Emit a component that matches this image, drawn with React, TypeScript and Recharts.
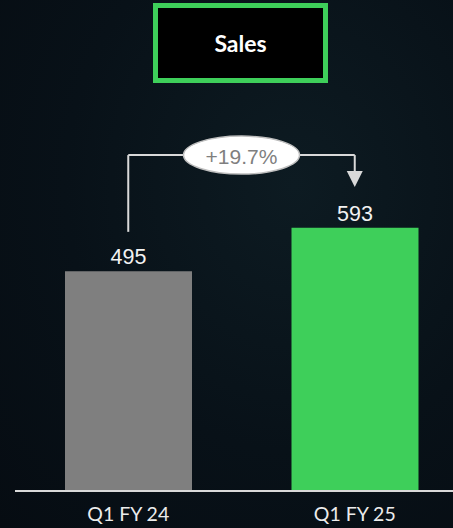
import {
  BarChart,
  Bar,
  Cell,
  XAxis,
  YAxis,
  LabelList,
  ReferenceLine,
  ReferenceDot,
} from "recharts";

const PERIODS = ["Q1 FY 24", "Q1 FY 25"];
const SALES = [495, 593];
const BAR_COLORS = ["#7f7f7f", "#3ecf5a"];
const GROWTH_LABEL = "+19.7%";

// bracket heights in data units
const BRACKET_TOP = 757;
const BRACKET_LEFT_BOTTOM = 584;
const ARROW_START = 720;
const ARROW_TIP = 685;

const data = PERIODS.map((period, i) => ({ period, sales: SALES[i] }));

const LINE = "#d9d9d9";

function GrowthBadge({ viewBox }: { viewBox?: { x: number; y: number; width: number } }) {
  if (!viewBox) return null;
  const cx = viewBox.x + viewBox.width / 2;
  const cy = viewBox.y;
  return (
    <g>
      <ellipse cx={cx} cy={cy} rx={58} ry={19} fill="#ffffff" stroke="#bfbfbf" strokeWidth={1.5} />
      <text
        x={cx}
        y={cy + 1}
        textAnchor="middle"
        dominantBaseline="central"
        fill="#7f7f7f"
        fontSize={21}
        fontFamily="'Liberation Sans', Arial, sans-serif"
      >
        {GROWTH_LABEL}
      </text>
    </g>
  );
}

function PeriodTick({ x, y, payload }: any) {
  return (
    <text
      x={x}
      y={y + 14}
      textAnchor="middle"
      dominantBaseline="central"
      fill="#ececec"
      fontSize={19.5}
      fontFamily="Lato, 'Open Sans', sans-serif"
    >
      {payload.value}
    </text>
  );
}

export default function App() {
  return (
    <div
      style={{
        position: "absolute",
        left: 0,
        top: 0,
        width: 453,
        height: 528,
        overflow: "hidden",
        background:
          "radial-gradient(ellipse at 65% 35%, #0d1b22 0%, #081118 55%, #060c12 100%)",
      }}
    >
      <div
        style={{
          position: "absolute",
          left: 153,
          top: 3,
          width: 175,
          height: 80,
          boxSizing: "border-box",
          border: "5px solid #3ecf5a",
          background: "#000000",
          color: "#ffffff",
          fontFamily: "Lato, 'Open Sans', sans-serif",
          fontWeight: 700,
          fontSize: 23,
          display: "flex",
          alignItems: "center",
          justifyContent: "center",
        }}
      >
        Sales
      </div>
      <div style={{ position: "absolute", left: 0, top: 0 }}>
        <BarChart
          width={470}
          height={528}
          data={data}
          margin={{ top: 136, right: 2, bottom: 7, left: 15 }}
        >
          <YAxis hide domain={[0, 800]} />
          <XAxis
            dataKey="period"
            height={30}
            tick={<PeriodTick />}
            tickLine={false}
            axisLine={{ stroke: LINE, strokeWidth: 2 }}
          />
          <Bar dataKey="sales" barSize={127} isAnimationActive={false}>
            {data.map((d, i) => (
              <Cell key={d.period} fill={BAR_COLORS[i]} />
            ))}
            <LabelList
              dataKey="sales"
              position="top"
              offset={7}
              fill="#f2f2f2"
              fontSize={21.5}
              fontFamily="'Liberation Sans', Arial, sans-serif"
            />
          </Bar>
          <ReferenceLine
            segment={[
              { x: PERIODS[0], y: BRACKET_LEFT_BOTTOM },
              { x: PERIODS[0], y: BRACKET_TOP },
            ]}
            stroke={LINE}
            strokeWidth={2}
          />
          <ReferenceLine
            segment={[
              { x: PERIODS[1], y: BRACKET_TOP },
              { x: PERIODS[1], y: ARROW_START },
            ]}
            stroke={LINE}
            strokeWidth={2}
          />
          <ReferenceLine
            segment={[
              { x: PERIODS[0], y: BRACKET_TOP },
              { x: PERIODS[1], y: BRACKET_TOP },
            ]}
            stroke={LINE}
            strokeWidth={2}
            label={<GrowthBadge />}
          />
          <ReferenceDot
            x={PERIODS[1]}
            y={ARROW_TIP}
            shape={(p: any) => (
              <polygon
                points={`${p.cx - 8},${p.cy - 16} ${p.cx + 8},${p.cy - 16} ${p.cx},${p.cy}`}
                fill={LINE}
              />
            )}
          />
        </BarChart>
      </div>
    </div>
  );
}
